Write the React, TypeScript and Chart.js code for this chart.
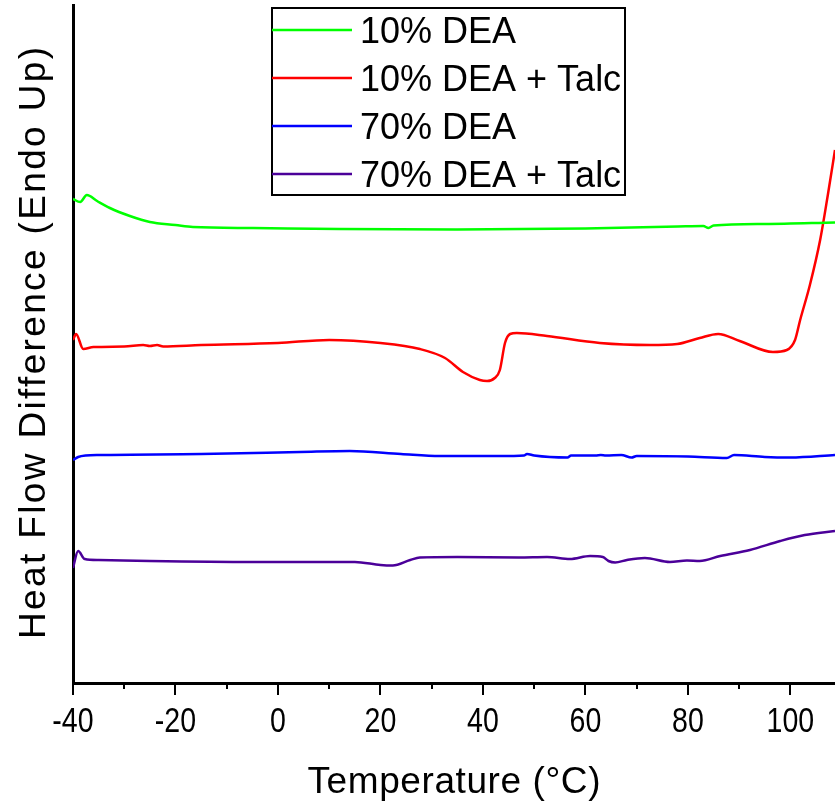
import React, { useEffect, useRef } from "react";
import { Chart, registerables } from "chart.js";

Chart.register(...registerables);

// Temperature (°C) and heat flow (arbitrary units, endo up)
const greenT = [-40, -38.6, -37.3, -35.3, -32.8, -28.9, -25.0, -20, -16.6, -4.9, 12, 35, 60, 78, 83, 84, 85, 95, 108.7];
const greenV = [4.84, 4.81, 4.88, 4.82, 4.75, 4.67, 4.61, 4.58, 4.56, 4.55, 4.54, 4.535, 4.545, 4.565, 4.57, 4.55, 4.575, 4.59, 4.605];

const redT = [-40, -39.4, -38.0, -36, -30, -26.3, -25, -23.6, -22.4, -15, 0, 10, 20, 27.7, 32.6, 36.1, 39.4, 40.8, 42.3, 43.3, 44.3, 45.3, 46.6, 52.5, 62.8, 72.6, 77.9, 82.3, 85.9, 90.1, 96.6, 99.3, 100.9, 101.9, 103.8, 105.8, 107.3, 108.7];
const redV = [3.43, 3.49, 3.34, 3.36, 3.365, 3.38, 3.37, 3.38, 3.365, 3.38, 3.40, 3.43, 3.40, 3.34, 3.25, 3.11, 3.03, 3.02, 3.05, 3.13, 3.40, 3.49, 3.50, 3.47, 3.40, 3.38, 3.39, 3.45, 3.49, 3.42, 3.31, 3.33, 3.43, 3.63, 3.98, 4.43, 4.88, 5.33];

const blueT = [-40, -39, -37.5, -34.7, -15, 4.3, 14, 24, 31.6, 43.3, 48, 48.6, 50, 56.5, 57.2, 62, 63, 64, 67, 69, 70, 80, 87.6, 89, 95, 100, 108.7];
const blueV = [2.23, 2.26, 2.275, 2.28, 2.29, 2.31, 2.32, 2.29, 2.27, 2.27, 2.275, 2.29, 2.275, 2.255, 2.275, 2.275, 2.28, 2.275, 2.28, 2.255, 2.27, 2.265, 2.25, 2.28, 2.26, 2.255, 2.28];

const purpleT = [-40, -39.0, -37.7, -35, -25, -5, 15, 20, 22.4, 25.8, 27.7, 35, 47, 52.5, 57, 60.9, 63.4, 64.5, 65.8, 68.1, 71.6, 76.5, 79.8, 82.3, 86.3, 92.1, 98, 102.8, 108.7];
const purpleV = [1.15, 1.32, 1.24, 1.23, 1.22, 1.21, 1.21, 1.18, 1.175, 1.23, 1.255, 1.26, 1.255, 1.26, 1.24, 1.27, 1.26, 1.22, 1.205, 1.23, 1.25, 1.21, 1.225, 1.22, 1.27, 1.33, 1.42, 1.48, 1.52];

const seriesLabels = ["10% DEA", "10% DEA + Talc", "70% DEA", "70% DEA + Talc"];
const seriesColors = ["#00ff00", "#ff0000", "#0000ff", "#4b0099"];

const xTickLabels = [-40, -20, 0, 20, 40, 60, 80, 100];
const xMinorTicks = [-30, -10, 10, 30, 50, 70, 90];
const xTitle = "Temperature (°C)";
const yTitle = "Heat Flow Difference (Endo Up)";

function pts(t: number[], v: number[]) {
  return t.map((x, i) => ({ x, y: v[i] }));
}

const decorPlugin = {
  id: "decor",
  afterDraw(chart: any) {
    const ctx = chart.ctx as CanvasRenderingContext2D;
    const xs = chart.scales.x;
    const area = chart.chartArea;
    ctx.save();
    // ticks
    ctx.strokeStyle = "#000";
    ctx.lineWidth = 2;
    const drawTick = (v: number, len: number) => {
      const px = Math.round(xs.getPixelForValue(v));
      ctx.beginPath();
      ctx.moveTo(px, area.bottom);
      ctx.lineTo(px, area.bottom + len);
      ctx.stroke();
    };
    xTickLabels.forEach((v) => drawTick(v, 12));
    xMinorTicks.forEach((v) => drawTick(v, 6));
    // tick labels (condensed)
    ctx.fillStyle = "#000";
    ctx.font = "34px 'Liberation Sans', Arial, sans-serif";
    ctx.textAlign = "center";
    ctx.textBaseline = "alphabetic";
    xTickLabels.forEach((v) => {
      const px = xs.getPixelForValue(v);
      ctx.save();
      ctx.translate(px, area.bottom + 49);
      ctx.scale(0.84, 1.02);
      ctx.fillText(String(v), 0, 0);
      ctx.restore();
    });
    // x title
    ctx.font = "37px 'Liberation Sans', Arial, sans-serif";
    (ctx as any).letterSpacing = "0px";
    let w = ctx.measureText(xTitle).width;
    let ls = (293 - w) / (xTitle.length - 1);
    (ctx as any).letterSpacing = ls + "px";
    ctx.textAlign = "center";
    ctx.fillText(xTitle, (area.left + area.right) / 2 + ls / 2, area.bottom + 110);
    // y title
    (ctx as any).letterSpacing = "0px";
    ctx.font = "37px 'Liberation Sans', Arial, sans-serif";
    w = ctx.measureText(yTitle).width;
    ls = (592 - w) / (yTitle.length - 1);
    (ctx as any).letterSpacing = ls + "px";
    ctx.save();
    ctx.translate(area.left - 28, (area.top + area.bottom) / 2 - 1);
    ctx.rotate(-Math.PI / 2);
    ctx.textAlign = "center";
    ctx.fillText(yTitle, ls / 2, 0);
    ctx.restore();
    (ctx as any).letterSpacing = "0px";
    // legend
    const lx = 272, ly = 8, lw = 353, lh = 187;
    ctx.fillStyle = "#fff";
    ctx.fillRect(lx, ly, lw, lh);
    ctx.strokeStyle = "#000";
    ctx.lineWidth = 2;
    ctx.strokeRect(lx, ly, lw, lh);
    ctx.font = "36px 'Liberation Sans', Arial, sans-serif";
    ctx.textAlign = "left";
    ctx.textBaseline = "alphabetic";
    seriesLabels.forEach((lab, i) => {
      const yy = ly + 22 + i * 48;
      ctx.strokeStyle = seriesColors[i];
      ctx.lineWidth = 2.5;
      ctx.beginPath();
      ctx.moveTo(lx, yy);
      ctx.lineTo(lx + 80, yy);
      ctx.stroke();
      ctx.fillStyle = "#000";
      ctx.fillText(lab, lx + 88, yy + 13);
    });
    ctx.restore();
  },
};

export default function App() {
  const ref = useRef<HTMLCanvasElement>(null);
  useEffect(() => {
    document.body.style.margin = "0";
    const c = ref.current!;
    const sets = [pts(greenT, greenV), pts(redT, redV), pts(blueT, blueV), pts(purpleT, purpleV)];
    const chart = new Chart(c, {
      type: "line",
      data: {
        datasets: sets.map((d, i) => ({
          label: seriesLabels[i],
          data: d,
          borderColor: seriesColors[i],
          backgroundColor: seriesColors[i],
          borderWidth: 2.5,
          pointRadius: 0,
          cubicInterpolationMode: "monotone" as const,
          fill: false,
        })),
      },
      options: {
        animation: false,
        responsive: false,
        events: [],
        layout: { padding: { top: 5, left: 0, right: 0, bottom: 0 } },
        plugins: { legend: { display: false }, tooltip: { enabled: false } },
        scales: {
          x: {
            type: "linear",
            min: -40,
            max: 108.7,
            grid: { display: false },
            border: { display: true, color: "#000", width: 3 },
            ticks: { display: false },
            afterFit: (s: any) => {
              s.height = 120;
            },
          },
          y: {
            type: "linear",
            min: 0,
            max: 6.78,
            grid: { display: false },
            border: { display: true, color: "#000", width: 3 },
            ticks: { display: false },
            afterFit: (s: any) => {
              s.width = 73;
            },
          },
        },
      },
      plugins: [decorPlugin],
    });
    return () => chart.destroy();
  }, []);
  return (
    <div style={{ position: "absolute", left: 0, top: 0, width: 835, height: 803 }}>
      <canvas ref={ref} width={835} height={803} />
    </div>
  );
}
